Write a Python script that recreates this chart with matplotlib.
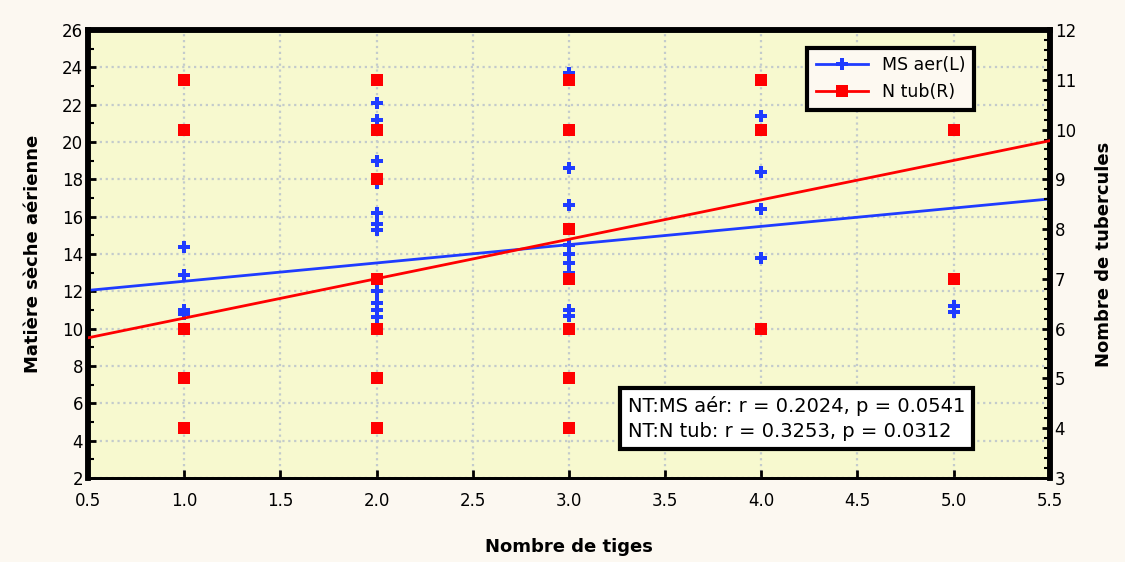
import numpy as np
import matplotlib
matplotlib.use('Agg')
import matplotlib.pyplot as plt
from matplotlib.ticker import MultipleLocator
from matplotlib.lines import Line2D

# Matiere seche aerienne (left axis), blue crosses
ms_x = [1, 1, 1, 1,
        2, 2, 2, 2, 2, 2, 2, 2, 2, 2, 2, 2,
        3, 3, 3, 3, 3, 3, 3, 3, 3,
        4, 4, 4, 4,
        5, 5]
ms_y = [14.4, 12.9, 11.0, 10.8,
        22.1, 21.2, 19.0, 17.8, 16.2, 15.6, 15.3, 12.5, 12.0, 11.4, 11.0, 10.6,
        23.7, 18.6, 16.6, 14.5, 14.0, 13.5, 13.0, 11.0, 10.7,
        21.4, 18.4, 16.4, 13.8,
        11.2, 10.9]

# Nombre de tubercules (right axis), red squares
ntub_x = [1, 1, 1, 1, 1,
          2, 2, 2, 2, 2, 2, 2,
          3, 3, 3, 3, 3, 3, 3,
          4, 4, 4,
          5, 5]
ntub_y = [11, 10, 6, 5, 4,
          11, 10, 9, 7, 6, 5, 4,
          11, 10, 8, 7, 6, 5, 4,
          11, 10, 6,
          10, 7]

# regression lines (intercept, slope)
ms_fit = (11.56, 0.98)
ntub_fit = (5.42, 0.792)

stats_lines = ["NT:MS aér: r = 0.2024, p = 0.0541",
               "NT:N tub: r = 0.3253, p = 0.0312"]
legend_labels = ["MS aer(L)", "N tub(R)"]

blue = '#1f3cff'
red = '#ff0000'

fig = plt.figure(figsize=(11.25, 5.62), dpi=100, facecolor='#fcf8f1')
ax = fig.add_axes([0.0782, 0.1495, 0.855, 0.7971])
ax.set_facecolor('#f7f9cf')
ax2 = ax.twinx()

xs = np.linspace(0.5, 5.5, 2)
ax.plot(xs, ms_fit[0] + ms_fit[1] * xs, color=blue, lw=2, zorder=3)
ax.plot(ms_x, ms_y, 'P', color=blue, ms=8.5, mew=0, zorder=4)
ax2.plot(xs, ntub_fit[0] + ntub_fit[1] * xs, color=red, lw=2, zorder=3)
ax2.plot(ntub_x, ntub_y, 's', color=red, ms=9, mew=0, zorder=4)

ax.set_xlim(0.5, 5.5)
ax.set_ylim(2, 26)
ax2.set_ylim(3, 12)
ax.xaxis.set_major_locator(MultipleLocator(0.5))
ax.yaxis.set_major_locator(MultipleLocator(2))
ax.yaxis.set_minor_locator(MultipleLocator(1))
ax2.yaxis.set_major_locator(MultipleLocator(1))
ax2.yaxis.set_minor_locator(MultipleLocator(0.2))
ax.xaxis.set_major_formatter(matplotlib.ticker.FormatStrFormatter('%.1f'))

ax.grid(True, which='major', color='#c3cbcc', linestyle=':', linewidth=1.6)

for a in (ax, ax2):
    a.tick_params(which='both', direction='in', color='black', labelsize=12)
    a.tick_params(which='major', length=6, width=2)
    a.tick_params(which='minor', length=4, width=1.5)
for s in ['left', 'top', 'right']:
    ax.spines[s].set_linewidth(4)
    ax2.spines[s].set_linewidth(4)
ax.spines['bottom'].set_linewidth(2)
ax2.spines['bottom'].set_linewidth(2)
ax.tick_params(axis='x', pad=10)

ax.set_xlabel('Nombre de tiges', fontsize=13, fontweight='bold', labelpad=20)
ax.set_ylabel('Matière sèche aérienne', fontsize=13, fontweight='bold', labelpad=14)
ax2.set_ylabel('Nombre de tubercules', fontsize=13, fontweight='bold', labelpad=14)

handles = [Line2D([], [], color=blue, lw=2, marker='P', ms=8, mew=0),
           Line2D([], [], color=red, lw=2, marker='s', ms=8, mew=0)]
leg = ax2.legend(handles, legend_labels, loc='upper right',
                 bbox_to_anchor=(0.93, 0.98), fontsize=12.5, fancybox=False,
                 framealpha=1, facecolor='#fdf9f1', edgecolor='black',
                 handlelength=3, borderpad=0.5)
leg.get_frame().set_linewidth(3)

ax2.text(0.561, 0.133, "\n".join(stats_lines), transform=ax2.transAxes,
         fontsize=14, va='center', ha='left', linespacing=1.4, zorder=10,
         bbox=dict(boxstyle='square,pad=0.4', facecolor='white',
                   edgecolor='black', linewidth=3))

plt.savefig('out.png', dpi=100, facecolor=fig.get_facecolor())
plt.close()
